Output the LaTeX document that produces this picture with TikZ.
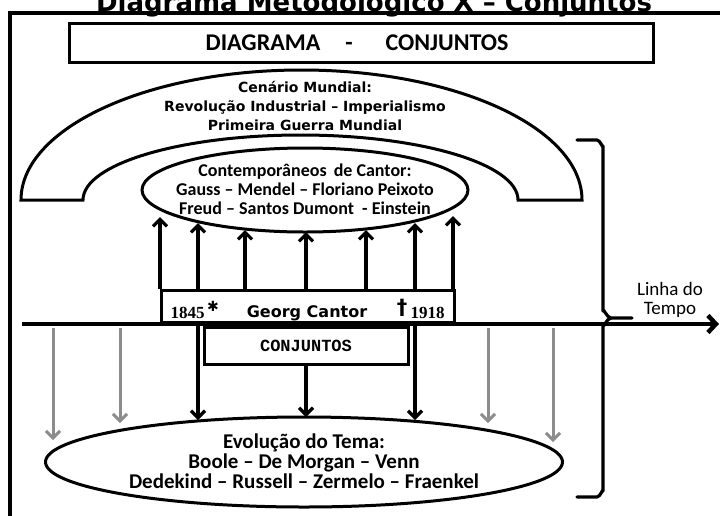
\documentclass[tikz,border=0pt]{standalone}
\usepackage{fontspec}
\setmainfont{Carlito}
\newfontfamily\dvs{DejaVu Sans}
\newfontfamily\monob{Liberation Mono}
\newfontfamily\lserif{Liberation Serif}
\usetikzlibrary{arrows.meta,shapes.geometric}

\begin{document}
\begin{tikzpicture}[x=1pt,y=-1pt,
  outline/.style={line width=3pt},
  barb/.style={-{Straight Barb[length=7pt,width=14pt]}},
  upar/.style={line width=3.2pt, barb},
  downar/.style={line width=3.2pt, barb},
  greyar/.style={line width=3pt, draw=black!45, barb},
  capt/.style={font=\bfseries\fontsize{24}{26}\selectfont, anchor=base},
  bluff/.style={font=\dvs\bfseries\fontsize{14}{19}\selectfont, align=center},
]
\useasboundingbox (0,0) rectangle (720,515);

% outer frame (runs past the page on the right and at the bottom)
\draw[line width=3.6pt] (10,530) -- (10,13) -- (740,13);

% heading above the frame
\node[font=\dvs\bfseries\fontsize{26}{28}\selectfont, anchor=base] (title) at (374,11)
  {Diagrama Metodológico X – Conjuntos};

% header box
\node[draw, outline, minimum width=584pt, minimum height=39pt] (hdr) at (361,42.5) {};
\node[capt] (hdrA) at (263,50) {DIAGRAMA};
\node[capt] (hdrB) at (349,50) {-};
\node[capt] (hdrC) at (447,50) {CONJUNTOS};

% world scene arch
\draw[outline, fill=white] (21,200)
  arc[start angle=180, end angle=360, x radius=280.5, y radius=130]
  -- (518,200)
  arc[start angle=0, end angle=-180, x radius=217.5, y radius=65]
  -- cycle;
\node[bluff] (scene) at (305,106) {Cenário Mundial:\\Revolução Industrial – Imperialismo\\Primeira Guerra Mundial};

% contemporaries
\node[draw, ellipse, outline, minimum width=326pt, minimum height=84pt] (cont) at (305,190) {};
\node[font=\bfseries\fontsize{18}{19}\selectfont, align=center] (contT) at (305,189)
  {Contemporâneos\, de Cantor:\\Gauss – Mendel – Floriano Peixoto\\Freud – Santos Dumont\ \ - Einstein};

% Cantor box on the time line
\node[draw, outline, minimum width=293pt, minimum height=32pt, anchor=south west] (cantor) at (160,324) {};
\node[font=\lserif\bfseries\fontsize{17}{17}\selectfont, anchor=base west] (born) at (167,318) {1845};
\node[font=\dvs\bfseries\fontsize{14}{14}\selectfont] (star) at (213,306) {✱};
\node[font=\dvs\bfseries\fontsize{16}{16}\selectfont, anchor=base] (name) at (307,317) {Georg Cantor};
\node[font=\dvs\bfseries\fontsize{21}{21}\selectfont] (cross) at (402,308) {†};
\node[font=\lserif\bfseries\fontsize{17}{17}\selectfont, anchor=base west] (died) at (407,318) {1918};

% time line
\coordinate (tlA) at (22,324);
\coordinate (tlB) at (719,324);
\draw[line width=4.5pt, -{Straight Barb[length=8pt,width=17pt]}] (tlA) -- (tlB);

% subject box
\node[draw, outline, minimum width=204pt, minimum height=37pt, anchor=north,
  font=\monob\bfseries\fontsize{17}{17}\selectfont] (conj) at (306,326) {CONJUNTOS};

% arrows up to the contemporaries
\coordinate (u1) at (160,217);
\coordinate (u2) at (198,223);
\coordinate (u3) at (245,230);
\coordinate (u4) at (306,232);
\coordinate (u5) at (366,230);
\coordinate (u6) at (415,223);
\coordinate (u7) at (453,216);
\foreach \k in {1,...,7} \draw[upar] (cantor.north -| u\k) -- (u\k);

% evolution of the subject
\node[draw, ellipse, outline, minimum width=517pt, minimum height=90pt] (evo) at (304,462) {};
\node[font=\bfseries\fontsize{21}{20}\selectfont, align=center] (evoT) at (304,461)
  {Evolução do Tema:\\Boole – De Morgan – Venn\\Dedekind – Russell – Zermelo – Fraenkel};

% arrows down to the evolution
\coordinate (d1) at (198,420);
\coordinate (d2) at (306,417);
\coordinate (d3) at (415,420);
\draw[downar] (tlA -| d1) -- (d1);
\draw[downar] (conj.south) -- (d2);
\draw[downar] (tlA -| d3) -- (d3);

% grey arrows
\coordinate (g1) at (53,440);
\coordinate (g2) at (120,423);
\coordinate (g3) at (488,423);
\coordinate (g4) at (553,442);
\foreach \k in {1,...,4} \draw[greyar] ([yshift=-4pt]tlA -| g\k) -- (g\k);

% brace marking the time line
\coordinate (brTop) at (577,140);
\coordinate (brTip) at (632,318);
\coordinate (brBot) at (577,497);
\draw[line width=3.2pt, line cap=round, line join=round]
  (brTop) -- (597,140) to[out=0,in=-90] (603,146) -- (603,311)
  to[out=90,in=180] (611,318) -- (brTip);
\draw[line width=3.2pt, line cap=round, line join=round]
  (611,318) to[out=180,in=-90] (603,325) -- (603,491)
  to[out=90,in=0] (597,497) -- (brBot);
\node[font=\fontsize{19}{19}\selectfont, align=center] (tl) at (670,300) {Linha do\\Tempo};
\end{tikzpicture}
\end{document}
